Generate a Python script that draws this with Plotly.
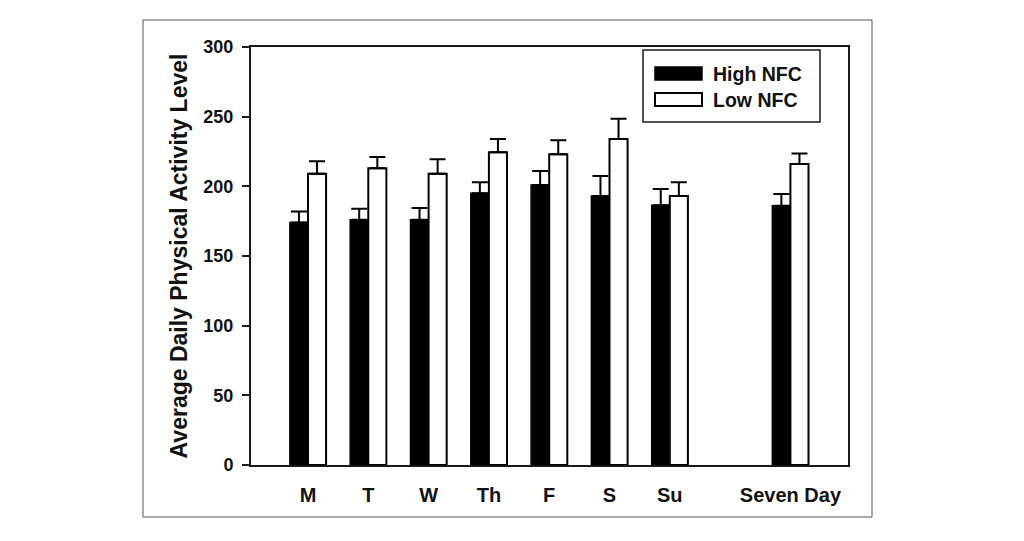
import plotly.graph_objects as go

days = ["M", "T", "W", "Th", "F", "S", "Su", "Seven Day"]
high_nfc = [174, 176, 176, 195, 201, 193, 186.5, 186]
high_err = [8, 8, 8.5, 8, 10, 14.5, 11.5, 8.5]
low_nfc = [209, 213, 209, 224.5, 223, 234, 193, 216]
low_err = [9, 8, 10.5, 9.5, 10, 14.5, 10, 7.5]
y_ticks = [0, 50, 100, 150, 200, 250, 300]
series_names = ["High NFC", "Low NFC"]

FONT = "Liberation Sans, Arial, sans-serif"
INK = "#1a1a1a"
TXT = "#111111"

# category order with a spacer slot between "Su" and "Seven Day"
cat_order = days[:7] + [" "] + days[7:]

fig = go.Figure()
fig.add_trace(go.Bar(
    x=days, y=high_nfc, name=series_names[0],
    marker=dict(color="black", line=dict(color="black", width=1.5)),
    error_y=dict(type="data", symmetric=False, array=high_err,
                 arrayminus=[0] * len(high_err), color="black",
                 thickness=2, width=8),
    showlegend=False,
))
fig.add_trace(go.Bar(
    x=days, y=low_nfc, name=series_names[1],
    marker=dict(color="white", line=dict(color="black", width=2)),
    error_y=dict(type="data", symmetric=False, array=low_err,
                 arrayminus=[0] * len(low_err), color="black",
                 thickness=2, width=8),
    showlegend=False,
))

# target plot area in page pixels: x 251..848, y 47..465
# page body has an 8px margin, so the figure itself starts at (8, 8)
OFF = 8
W, H = 1024, 541
L, R, T, B = 251, 848, 47, 465


def px(x):
    return (x - L) / (R - L)


def py(y):
    return (B - y) / (B - T)


shapes = [
    # outer frame
    dict(type="rect", xref="paper", yref="paper", x0=px(143), x1=px(872),
         y0=py(517), y1=py(20), line=dict(color="#555555", width=1),
         layer="below"),
    # legend box
    dict(type="rect", xref="paper", yref="paper", x0=px(643), x1=px(820),
         y0=py(122), y1=py(50), line=dict(color=INK, width=1.5),
         fillcolor="white"),
    # legend swatches
    dict(type="rect", xref="paper", yref="paper", x0=px(655), x1=px(702),
         y0=py(80), y1=py(67), line=dict(color="black", width=1.5),
         fillcolor="black"),
    dict(type="rect", xref="paper", yref="paper", x0=px(655), x1=px(702),
         y0=py(106), y1=py(93), line=dict(color="black", width=2),
         fillcolor="white"),
]

annotations = [
    dict(text=series_names[0], xref="paper", yref="paper", x=px(711), y=py(74),
         xanchor="left", yanchor="middle", showarrow=False,
         font=dict(family=FONT, size=19.5, color=TXT, weight="bold")),
    dict(text=series_names[1], xref="paper", yref="paper", x=px(711), y=py(100),
         xanchor="left", yanchor="middle", showarrow=False,
         font=dict(family=FONT, size=19.5, color=TXT, weight="bold")),
]

fig.update_layout(
    width=W, height=H,
    margin=dict(l=L - OFF, r=W - (R - OFF), t=T - OFF, b=H - (B - OFF), pad=0),
    paper_bgcolor="white", plot_bgcolor="white",
    barmode="group", bargap=0.4, bargroupgap=0,
    shapes=shapes, annotations=annotations,
    font=dict(family=FONT, color=TXT),
)
fig.update_xaxes(
    type="category", categoryorder="array", categoryarray=cat_order,
    range=[-0.945, 8.955],
    showline=True, mirror=True, linecolor=INK, linewidth=2,
    ticks="", showgrid=False, zeroline=False,
    tickfont=dict(family=FONT, size=20, color=TXT, weight="bold"),
    ticklabelstandoff=11,
)
fig.update_yaxes(
    range=[0, 300], tickvals=y_ticks,
    showline=True, mirror=True, linecolor=INK, linewidth=2,
    ticks="outside", ticklen=7, tickwidth=1.5, tickcolor=INK,
    showgrid=False, zeroline=False,
    tickfont=dict(family=FONT, size=18, color=TXT, weight="bold"),
    ticklabelstandoff=5,
    title=dict(text="Average Daily Physical Activity Level", standoff=9,
               font=dict(family=FONT, size=23, color=TXT, weight="bold")),
)

fig.write_html("out.html")
